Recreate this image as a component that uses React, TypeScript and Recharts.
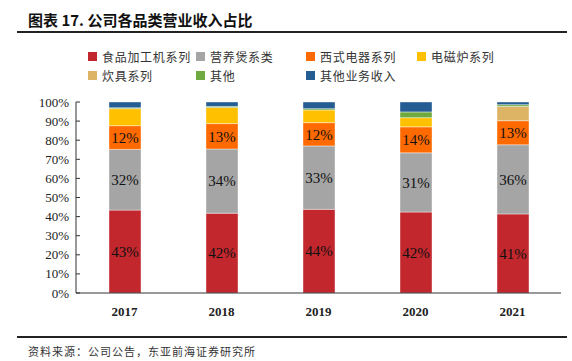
import React from "react";
import { BarChart, Bar, XAxis, YAxis, LabelList } from "recharts";

const years = ["2017", "2018", "2019", "2020", "2021"];
const foodProcessor = [43.4, 41.8, 43.8, 42.4, 41.4];
const nutritionPot = [31.8, 33.6, 33.2, 31.0, 36.2];
const westernAppliance = [12.4, 13.3, 12.2, 13.6, 12.6];
const inductionCooker = [8.9, 8.4, 6.6, 4.8, 0];
const cookware = [0, 0, 0, 0, 7.5];
const others = [0.5, 0.6, 0.7, 3.0, 0.9];
const otherBusiness = [3.0, 2.3, 3.5, 5.2, 1.4];
const yTicks = [0, 10, 20, 30, 40, 50, 60, 70, 80, 90, 100];

const seriesDefs = [
  { key: "food", name: "食品加工机系列", color: "#C1272D", values: foodProcessor, label: true },
  { key: "pot", name: "营养煲系类", color: "#A5A5A5", values: nutritionPot, label: true },
  { key: "western", name: "西式电器系列", color: "#FF6A00", values: westernAppliance, label: true },
  { key: "induction", name: "电磁炉系列", color: "#FFC000", values: inductionCooker, label: false },
  { key: "cookware", name: "炊具系列", color: "#DDB466", values: cookware, label: false },
  { key: "others", name: "其他", color: "#6EAA3F", values: others, label: false },
  { key: "otherBiz", name: "其他业务收入", color: "#245D92", values: otherBusiness, label: false },
];

const data = years.map((y, i) => {
  const row: Record<string, number | string> = { year: y };
  seriesDefs.forEach((s) => {
    row[s.key] = s.values[i];
  });
  return row;
});

const serif = "'Liberation Serif', 'DejaVu Serif', serif";
const cjk = "'Noto Sans CJK SC', sans-serif";

const YTick = (props: any) => {
  const { x, y, payload } = props;
  return (
    <g>
      <line x1={x + 7} x2={x + 11} y1={y} y2={y} stroke="#333" strokeWidth={1} />
      <text x={x} y={y} textAnchor="end" dominantBaseline="central" fontFamily={serif} fontSize={13} fill="#222">
        {payload.value}%
      </text>
    </g>
  );
};

const XTick = (props: any) => {
  const { x, y, payload } = props;
  return (
    <text x={x} y={y + 10} textAnchor="middle" dominantBaseline="central" fontFamily={serif} fontSize={13} fontWeight="bold" fill="#222">
      {payload.value}
    </text>
  );
};

const LegendBlock = () => {
  const cols = [88, 196, 306, 417];
  return (
    <div style={{ position: "absolute", left: 0, top: 48, width: 572, height: 40 }}>
      {seriesDefs.map((s, i) => {
        const row = Math.floor(i / 4);
        const col = i % 4;
        return (
          <div
            key={s.key}
            style={{
              position: "absolute",
              left: cols[col],
              top: row * 19,
              height: 16,
              display: "flex",
              alignItems: "center",
              whiteSpace: "nowrap",
            }}
          >
            <span style={{ display: "inline-block", width: 9, height: 9, background: s.color, marginRight: 5 }} />
            <span style={{ fontFamily: cjk, fontSize: 12, letterSpacing: 0.7, color: "#333" }}>{s.name}</span>
          </div>
        );
      })}
    </div>
  );
};

export default function App() {
  return (
    <div style={{ position: "absolute", left: 0, top: 0, width: 572, height: 361, background: "#fff", overflow: "hidden" }}>
      <div
        style={{
          position: "absolute",
          left: 28,
          top: 9,
          fontFamily: cjk,
          fontWeight: "bold",
          fontSize: 15,
          color: "#111",
          whiteSpace: "nowrap",
        }}
      >
        图表 17. 公司各品类营业收入占比
      </div>
      <div style={{ position: "absolute", left: 17, top: 31, width: 550, height: 2, background: "#222" }} />
      <LegendBlock />
      <div style={{ position: "absolute", left: 0, top: 0 }}>
        <BarChart
          width={572}
          height={361}
          data={data}
          margin={{ top: 102, right: 11, bottom: 38, left: 36 }}
          barSize={32}
        >
          <XAxis
            dataKey="year"
            axisLine={{ stroke: "#333", strokeWidth: 1 }}
            tickLine={false}
            tick={<XTick />}
            height={30}
          />
          <YAxis
            domain={[0, 100]}
            ticks={yTicks}
            interval={0}
            axisLine={{ stroke: "#333", strokeWidth: 1 }}
            tickLine={false}
            tickSize={0}
            tickMargin={7}
            tick={<YTick />}
            width={40}
          />
          {seriesDefs.map((s) => (
            <Bar
              key={s.key}
              dataKey={s.key}
              name={s.name}
              stackId="a"
              fill={s.color}
              stroke="#ffffff"
              strokeWidth={0.4}
              isAnimationActive={false}
            >
              {s.label ? (
                <LabelList
                  dataKey={s.key}
                  position="center"
                  formatter={(v: any) => `${Math.round(Number(v))}%`}
                  style={{ fontFamily: serif, fontSize: 15, fill: "#111" }}
                />
              ) : null}
            </Bar>
          ))}
        </BarChart>
      </div>
      <div style={{ position: "absolute", left: 17, top: 336, width: 550, height: 2, background: "#222" }} />
      <div
        style={{
          position: "absolute",
          left: 28,
          top: 343,
          fontFamily: cjk,
          fontSize: 11,
          letterSpacing: 1,
          color: "#333",
          whiteSpace: "nowrap",
        }}
      >
        资料来源：公司公告，东亚前海证券研究所
      </div>
    </div>
  );
}
